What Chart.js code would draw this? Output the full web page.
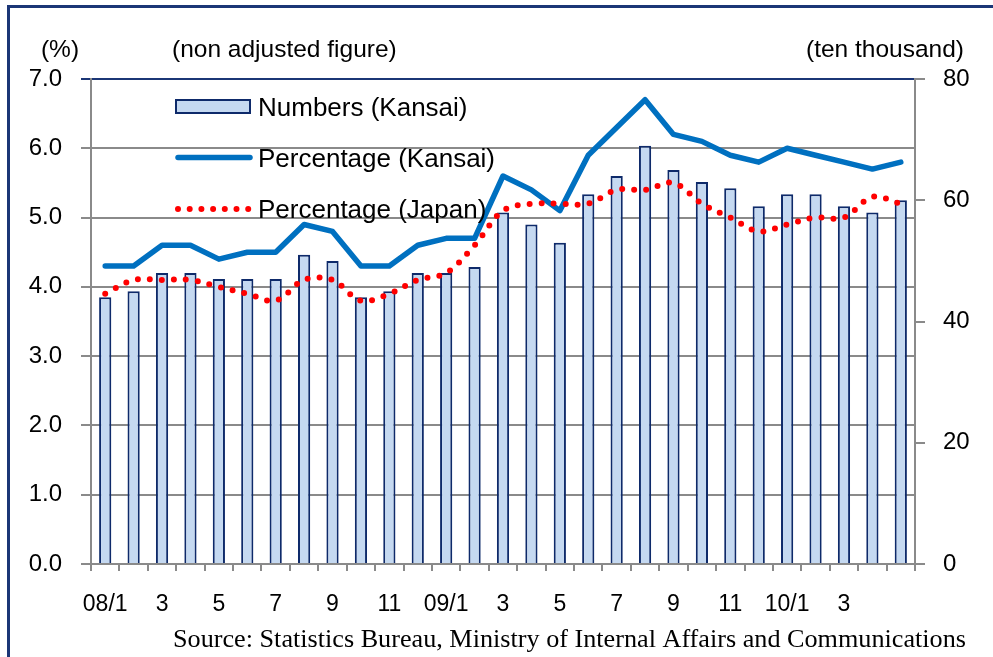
<!DOCTYPE html>
<html>
<head>
<meta charset="utf-8">
<script src="https://cdn.jsdelivr.net/npm/chart.js@4.4.0/dist/chart.umd.min.js"></script>
<style>
  body { margin: 0; background: #fff; }
  #wrap { position: relative; width: 993px; height: 657px; }
</style>
</head>
<body>
<div id="wrap"><canvas id="chart"></canvas></div>
<script>
// months 08/1 .. 10/5
var months = ['08/1','08/2','08/3','08/4','08/5','08/6','08/7','08/8','08/9','08/10','08/11','08/12',
              '09/1','09/2','09/3','09/4','09/5','09/6','09/7','09/8','09/9','09/10','09/11','09/12',
              '10/1','10/2','10/3','10/4','10/5'];
// labels shown under the axis
var tickLabels = ['08/1','','3','','5','','7','','9','','11','',
                  '09/1','','3','','5','','7','','9','','11','',
                  '10/1','','3','',''];
// unemployed persons, Kansai (ten thousand)
var numbersKansai = [44, 45, 48, 48, 47, 47, 47, 51, 50, 44, 45, 48,
                     48, 49, 58, 56, 53, 61, 64, 69, 65, 63, 62, 59,
                     61, 61, 59, 58, 60];
// unemployment rate (%)
var rateKansai = [4.3, 4.3, 4.6, 4.6, 4.4, 4.5, 4.5, 4.9, 4.8, 4.3, 4.3, 4.6,
                  4.7, 4.7, 5.6, 5.4, 5.1, 5.9, 6.3, 6.7, 6.2, 6.1, 5.9, 5.8,
                  6.0, 5.9, 5.8, 5.7, 5.8];
var rateJapan = [3.9, 4.1, 4.1, 4.1, 4.0, 3.9, 3.8, 4.1, 4.1, 3.8, 3.9, 4.1,
                 4.2, 4.6, 5.1, 5.2, 5.2, 5.2, 5.4, 5.4, 5.5, 5.2, 5.0, 4.8,
                 4.9, 5.0, 5.0, 5.3, 5.2];

var gris = '#8a8a8a';
var navy = '#1b3676';
var sans = '"Liberation Sans", Arial, sans-serif';

// textos fijos, leyenda y marco
var extras = {
  id: 'extras',
  beforeDraw: function (chart) {
    var ctx = chart.ctx;
    ctx.save();
    ctx.fillStyle = navy;
    ctx.fillRect(7, 5, 993, 3);
    ctx.fillRect(7, 5, 3, 657);
    ctx.restore();
  },
  afterDatasetsDraw: function (chart) {
    var ctx = chart.ctx;
    ctx.save();
    // leyenda
    ctx.fillStyle = '#c5d9f1';
    ctx.fillRect(175, 100, 75, 13);
    ctx.strokeStyle = '#0e2a6a';
    ctx.lineWidth = 2;
    ctx.strokeRect(176, 100, 74, 13);

    ctx.strokeStyle = '#0070c0';
    ctx.lineWidth = 5.5;
    ctx.lineCap = 'round';
    ctx.beginPath(); ctx.moveTo(178, 157.5); ctx.lineTo(250, 157.5); ctx.stroke();

    ctx.strokeStyle = '#ff0000';
    ctx.lineWidth = 6;
    ctx.setLineDash([0, 11.7]);
    ctx.beginPath(); ctx.moveTo(178, 209); ctx.lineTo(250, 209); ctx.stroke();
    ctx.setLineDash([]);

    ctx.fillStyle = '#000';
    ctx.font = '26px ' + sans;
    ctx.textBaseline = 'alphabetic';
    ctx.fillText('Numbers (Kansai)', 258, 116);
    ctx.fillText('Percentage (Kansai)', 258, 167);
    ctx.fillText('Percentage (Japan)', 258, 218);
    ctx.restore();
  },
  afterDraw: function (chart) {
    var ctx = chart.ctx;
    ctx.save();
    ctx.fillStyle = '#000';
    ctx.font = '24.5px ' + sans;
    ctx.textBaseline = 'alphabetic';
    ctx.textAlign = 'center';
    ctx.fillText('(%)', 60, 57);
    ctx.textAlign = 'left';
    ctx.fillText('(non adjusted figure)', 172, 57);
    ctx.textAlign = 'right';
    ctx.fillText('(ten thousand)', 964, 57);
    ctx.font = '26.2px "Liberation Serif", "Times New Roman", serif';
    ctx.fillText('Source: Statistics Bureau, Ministry of Internal Affairs and Communications', 966, 647);
    ctx.restore();
  }
};

var ctx = document.getElementById('chart').getContext('2d');
var chart = new Chart(ctx, {
  type: 'bar',
  data: {
    labels: months,
    datasets: [
      {
        type: 'line',
        label: 'Percentage (Japan)',
        data: rateJapan,
        yAxisID: 'y',
        borderColor: '#ff0000',
        borderWidth: 6,
        borderDash: [0, 12],
        borderCapStyle: 'round',
        tension: 0.35,
        pointRadius: 0,
        fill: false,
        order: 1
      },
      {
        type: 'line',
        label: 'Percentage (Kansai)',
        data: rateKansai,
        yAxisID: 'y',
        borderColor: '#0070c0',
        borderWidth: 5.5,
        borderJoinStyle: 'round',
        borderCapStyle: 'round',
        tension: 0,
        pointRadius: 0,
        fill: false,
        order: 2
      },
      {
        type: 'bar',
        label: 'Numbers (Kansai)',
        data: numbersKansai,
        yAxisID: 'y1',
        backgroundColor: '#c5d9f1',
        borderColor: '#0e2a6a',
        borderWidth: 2,
        categoryPercentage: 1,
        barPercentage: 0.43,
        order: 3
      }
    ]
  },
  options: {
    responsive: true,
    maintainAspectRatio: false,
    animation: false,
    layout: { padding: { top: 79, left: 0, right: 0, bottom: 0 } },
    plugins: {
      legend: { display: false },
      tooltip: { enabled: false }
    },
    scales: {
      x: {
        afterFit: function (s) { s.height = 93; },
        grid: { drawOnChartArea: false, tickLength: 7, color: gris, lineWidth: 2 },
        border: { color: gris, width: 2 },
        ticks: {
          autoSkip: false, maxRotation: 0, padding: 20,
          color: '#000', font: { family: sans, size: 23 },
          callback: function (v, i) { return tickLabels[i]; }
        }
      },
      y: {
        position: 'left',
        min: 0, max: 7,
        afterFit: function (s) { s.width = 91; },
        grid: {
          tickLength: 10, lineWidth: 2,
          color: function (c) { return c.tick && c.tick.value === 7 ? navy : gris; }
        },
        border: { color: gris, width: 2 },
        ticks: {
          stepSize: 1, padding: 19, color: '#000',
          font: { family: sans, size: 24 },
          callback: function (v) { return v.toFixed(1); }
        }
      },
      y1: {
        position: 'right',
        min: 0, max: 80,
        afterFit: function (s) { s.width = 78; },
        grid: { drawOnChartArea: false, tickLength: 10, lineWidth: 2, color: gris },
        border: { color: gris, width: 2 },
        ticks: {
          stepSize: 20, padding: 18, color: '#000',
          font: { family: sans, size: 24 }
        }
      }
    }
  },
  plugins: [extras]
});
</script>
</body>
</html>
